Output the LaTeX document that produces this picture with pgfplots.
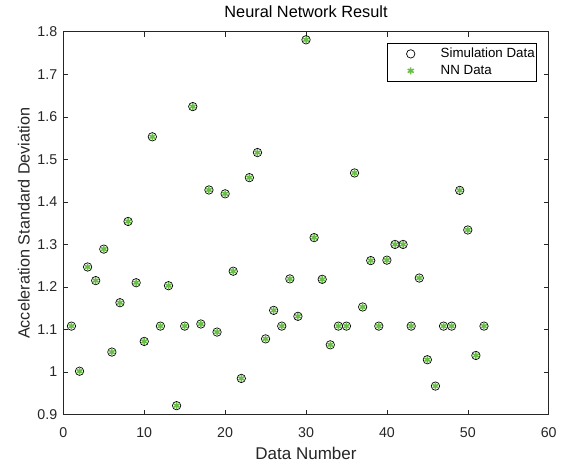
\documentclass[border=0pt]{standalone}
\usepackage{pgfplots}
\pgfplotsset{compat=1.18}
\usepackage{fontspec}
\setmainfont{Liberation Sans}
\definecolor{mgray}{RGB}{38,38,38}
\definecolor{nngreen}{RGB}{105,190,70}

\pgfplotstableread{
n  y
1  1.108
2  1.002
3  1.247
4  1.215
5  1.289
6  1.047
7  1.163
8  1.354
9  1.210
10 1.072
11 1.553
12 1.108
13 1.203
14 0.921
15 1.108
16 1.624
17 1.113
18 1.428
19 1.094
20 1.419
21 1.237
22 0.985
23 1.457
24 1.516
25 1.078
26 1.145
27 1.108
28 1.219
29 1.131
30 1.781
31 1.316
32 1.218
33 1.064
34 1.108
35 1.108
36 1.468
37 1.153
38 1.262
39 1.108
40 1.263
41 1.300
42 1.300
43 1.108
44 1.221
45 1.029
46 0.967
47 1.108
48 1.108
49 1.427
50 1.334
51 1.039
52 1.108
}\nndata

\begin{document}
\begin{tikzpicture}
\begin{axis}[
  name=ax, scale only axis,
  width=485pt, height=382.6pt,
  xmin=0, xmax=60, ymin=0.9, ymax=1.8,
  xtick={0,10,...,60}, ytick={0.9,1,...,1.8},
  tick align=inside, major tick length=5pt,
  axis line style={mgray, line width=0.6pt},
  tick style={mgray, line width=0.6pt},
  /pgf/number format/assume math mode=true,
  tick label style={font=\fontsize{14.2}{16}\selectfont, text=mgray},
  xticklabel style={anchor=base, yshift=-22.7pt},
  yticklabel style={/pgf/number format/fixed, xshift=-2.6pt},
  xlabel={Data Number}, ylabel={Acceleration Standard Deviation},
  xlabel style={font=\fontsize{17}{19}\selectfont, text=mgray,
    at={(axis description cs:0.5,-0.1168)}, anchor=base},
  ylabel style={font=\fontsize{16.2}{18}\selectfont, text=mgray,
    at={(axis description cs:-0.0693,0.5)}, anchor=base},
  title={Neural Network Result},
  title style={font=\fontsize{16.3}{18}\selectfont, text=black,
    at={(axis description cs:0.5,1.0227)}, anchor=base},
  legend style={at={(0.9759,0.9705)}, anchor=north east, draw=black,
    line width=0.6pt, font=\fontsize{13.3}{15}\selectfont, text=black,
    inner xsep=0pt, inner ysep=3pt, row sep=2pt,
    /tikz/every even column/.append style={column sep=0pt}},
  legend cell align=left,
  legend image code/.code={%
    \path[draw=none, fill=none] (0pt,0pt) -- (51pt,0pt);
    \draw[#1] plot[mark repeat=1] coordinates {(23pt,0pt)};},
]
\addplot[only marks, mark=o, mark size=4.2pt, black, line width=0.7pt]
  table[x=n, y=y] {\nndata};
\addlegendentry{Simulation Data}
\addplot[only marks, mark=asterisk, mark size=3.5pt, nngreen, line width=1.5pt]
  table[x=n, y=y] {\nndata};
\addlegendentry{NN Data}
\end{axis}
\pgfresetboundingbox
\useasboundingbox ([xshift=-63.3pt, yshift=-48.7pt]ax.south west)
  rectangle ([xshift=14.3pt, yshift=31.7pt]ax.north east);
\end{tikzpicture}
\end{document}
